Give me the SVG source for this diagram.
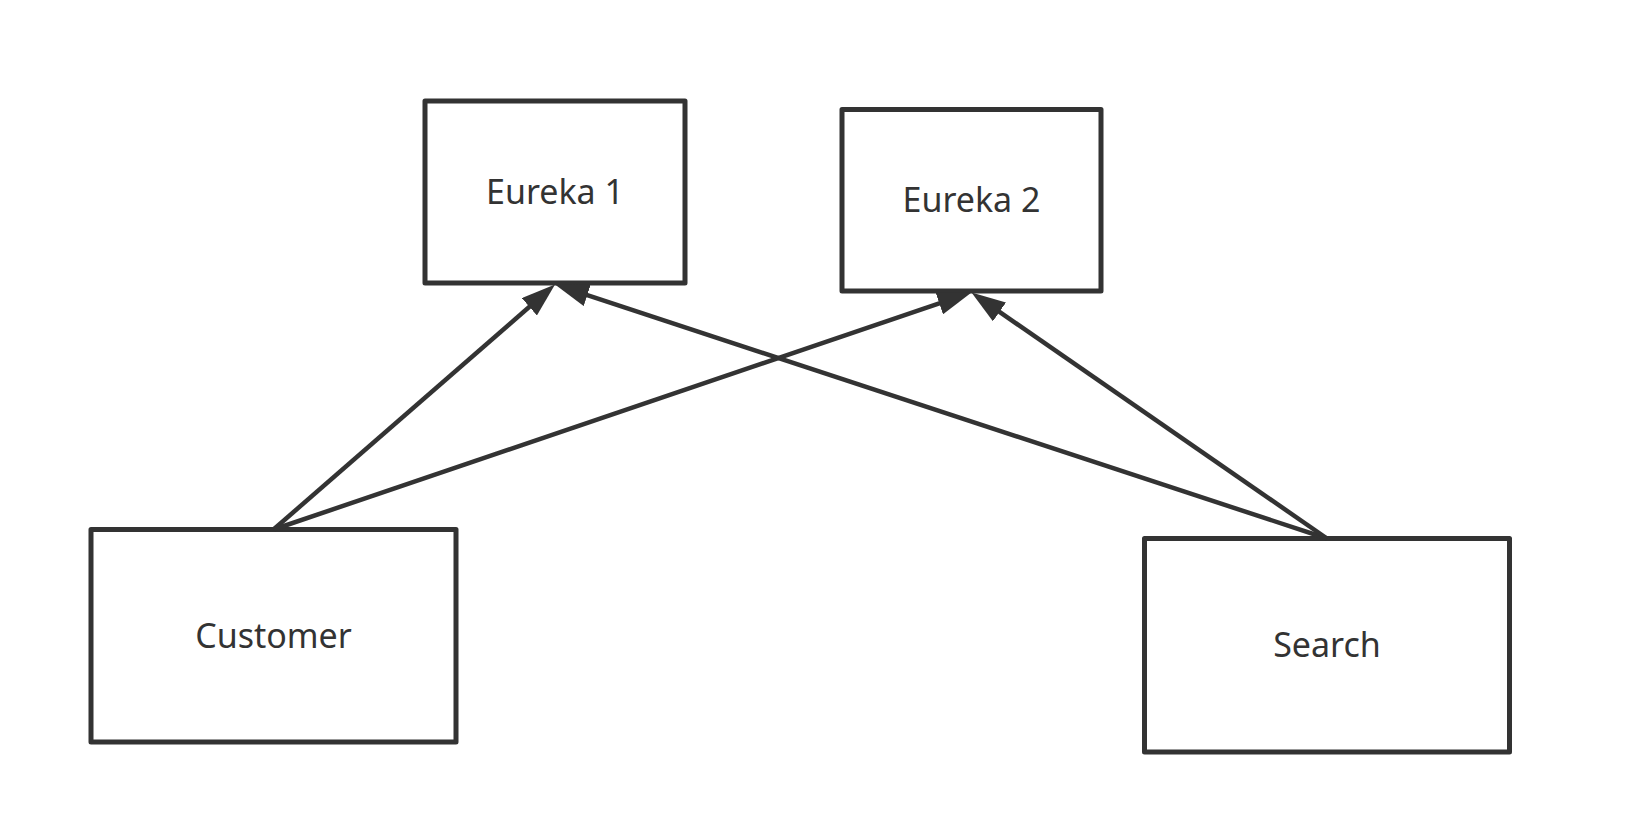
<svg xmlns="http://www.w3.org/2000/svg" width="1632" height="825" viewBox="0 0 1632 825">
  <style>
    .box { fill: #ffffff; stroke: #333333; stroke-width: 5; stroke-linejoin: round; }
    .label { font-family: "Noto Sans", "Open Sans", sans-serif; font-size: 34px; fill: #333333; text-anchor: middle; }
    .edge { fill: none; stroke: #333333; stroke-width: 4.5; marker-end: url(#arrow); }
  </style>
  <defs>
    <marker id="arrow" markerUnits="userSpaceOnUse" markerWidth="34" markerHeight="23" refX="24" refY="11.5" orient="auto">
      <path d="M0,0 L34,11.5 L0,23 z" fill="#333333"/>
    </marker>
  </defs>
  <rect width="1632" height="825" fill="#ffffff"/>
  <g id="eureka1">
    <rect class="box" x="425" y="101" width="260" height="182"/>
    <text class="label" x="555" y="204">Eureka 1</text>
  </g>
  <g id="eureka2">
    <rect class="box" x="842" y="109.5" width="259" height="181.5"/>
    <text class="label" x="971.5" y="212">Eureka 2</text>
  </g>
  <g id="customer">
    <rect class="box" x="91" y="529.5" width="365" height="212.5"/>
    <text class="label" x="273.5" y="648">Customer</text>
  </g>
  <g id="search">
    <rect class="box" x="1144.5" y="538.5" width="365" height="213.5"/>
    <text class="label" x="1327" y="657">Search</text>
  </g>
  <g id="connectors">
    <path class="edge" d="M273.5,529.5 L547.46,291.06"/>
    <path class="edge" d="M273.5,529.5 L962.03,295.72"/>
    <path class="edge" d="M1327,538.5 L564.5,287.63"/>
    <path class="edge" d="M1327,538.5 L979.72,298.19"/>
  </g>
</svg>
